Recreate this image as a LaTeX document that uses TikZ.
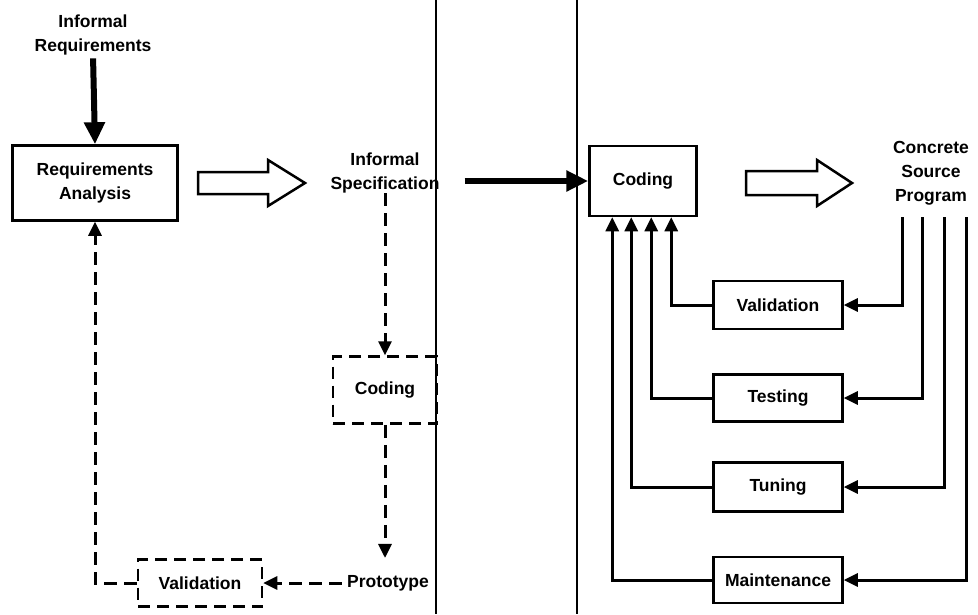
\documentclass[tikz,border=0pt]{standalone}
\usepackage{fontspec}
\setmainfont{Liberation Sans}
\usetikzlibrary{arrows.meta,calc}
\begin{document}
\begin{tikzpicture}[x=1pt,y={(0,-1pt)},
  every node/.style={font=\fontsize{17.5}{24}\selectfont\bfseries, align=center, inner sep=0pt},
  box/.style={draw, line width=2.5pt, minimum width=#1},
  dbox/.style={box=#1, dash pattern=on 12pt off 7pt},
  conn/.style={line width=3pt, -{Triangle[length=14pt,width=13pt]}},
  dconn/.style={conn, dash pattern=on 13pt off 7pt},
  heavy/.style={line width=6pt, -{Triangle[length=22pt,width=20pt]}},
  sep/.style={line width=1.5pt},
  hollow/.style={line width=2.5pt, fill=white, line join=miter}]
\useasboundingbox (0,0) rectangle (978,614);

% separators
\draw[sep] (436,0) -- (436,614);
\draw[sep] (577,0) -- (577,614);

% left part
\node (ireq) at (93,35) {Informal\\Requirements};
\node[box=165pt, minimum height=75pt] (ra) at (95,183) {Requirements\\Analysis};
\node (ispec) at (385,173) {Informal\\Specification};
\node[dbox=104pt, minimum height=67pt] (lcod) at (385,390) {Coding};
\node (proto) at (388,583) {Prototype};
\node[dbox=124pt, minimum height=47pt] (lval) at (200,583) {Validation};

\draw[hollow] (198,172) -- (268,172) -- (268,160) -- (305,183) -- (268,206) -- (268,194) -- (198,194) -- cycle;

\draw[heavy, shorten <=3pt] (ireq.south) -- (ra.north);
\draw[dconn] (ispec.south) -- (lcod.north);
\draw[dconn, shorten >=17pt] (lcod.south) -- (lcod.south |- proto.north);
\draw[dconn, shorten <=5pt] (proto.west) -- (lval.east);
\draw[dconn] (lval.west) -| (ra.south);

% right part
\node[box=107pt, minimum height=70pt] (cod) at (643,181) {Coding};
\node (prog) at (931,173) {Concrete\\Source\\Program};
\node[box=129pt, minimum height=48pt] (rval) at (778,305) {Validation};
\node[box=129pt, minimum height=47pt] (test) at (778,398) {Testing};
\node[box=129pt, minimum height=49pt] (tun) at (778,487) {Tuning};
\node[box=129pt, minimum height=46pt] (maint) at (778,580) {Maintenance};

\draw[hollow] (746,171) -- (817,171) -- (817,160) -- (852,183) -- (817,206) -- (817,195) -- (746,195) -- cycle;

\draw[heavy, shorten <=25pt] (cod.west -| ispec.east) -- (cod.west);

\coordinate (p1) at (902,217);
\coordinate (p2) at (922,217);
\coordinate (p3) at (944,217);
\coordinate (p4) at (966,217);

\draw[conn] (p1) |- (rval.east);
\draw[conn] (p2) |- (test.east);
\draw[conn] (p3) |- (tun.east);
\draw[conn] (p4) |- (maint.east);

\draw[conn] (rval.west) -| ([xshift=83pt]cod.south west);
\draw[conn] (test.west) -| ([xshift=63pt]cod.south west);
\draw[conn] (tun.west) -| ([xshift=43pt]cod.south west);
\draw[conn] (maint.west) -| ([xshift=24pt]cod.south west);
\end{tikzpicture}
\end{document}
